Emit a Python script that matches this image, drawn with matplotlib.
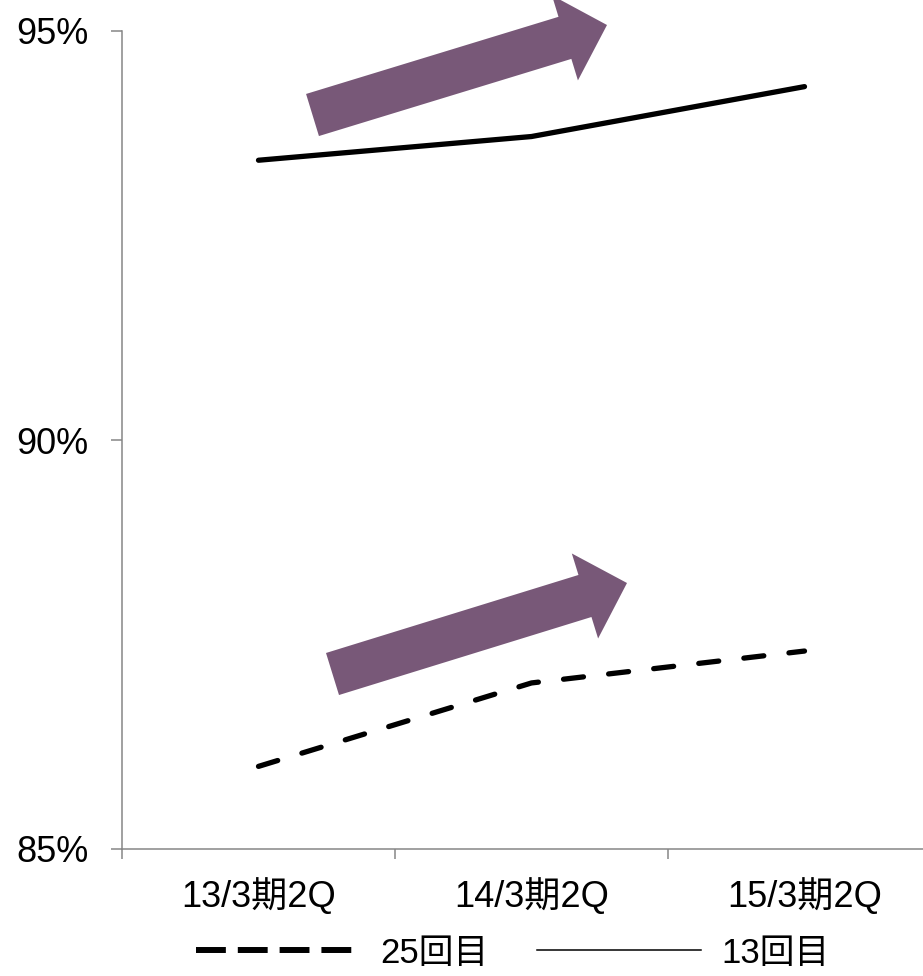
import numpy as np
import matplotlib
matplotlib.use("Agg")
import matplotlib.pyplot as plt
from matplotlib.lines import Line2D
from matplotlib.patches import Polygon
from matplotlib.ticker import FuncFormatter

plt.rcParams['font.family'] = ['Liberation Sans', 'Noto Sans CJK JP', 'DejaVu Sans']

# 継続率（%）
categories = ['13/3期2Q', '14/3期2Q', '15/3期2Q']
rate_25 = [86.01, 87.03, 87.42]   # 25回目
rate_13 = [93.42, 93.71, 94.32]   # 13回目
series_labels = ['25回目', '13回目']
y_ticks = [85, 90, 95]

W, H = 923, 976
fig = plt.figure(figsize=(W / 100, H / 100), dpi=100)
ax = fig.add_axes([122 / W, 1 - 849 / H, (941 - 122) / W, (849 - 31) / H])

x = np.arange(len(categories))
ax.plot(x, rate_13, color='black', lw=3.8, solid_capstyle='round', solid_joinstyle='round')
ax.plot(x, rate_25, color='black', lw=3.8, dashes=(3.8, 4.8), dash_capstyle='round')

ax.set_xlim(-0.5, len(categories) - 0.5)
ax.set_ylim(85, 95)

axis_grey = '#868686'
for side in ['top', 'right']:
    ax.spines[side].set_visible(False)
for side in ['left', 'bottom']:
    ax.spines[side].set_color(axis_grey)
    ax.spines[side].set_linewidth(1.1)

# category boundaries get tick marks, labels sit between them
ax.set_xticks(np.arange(len(categories) + 1) - 0.5)
ax.set_xticklabels([])
ax.set_xticks(x, minor=True)
ax.set_xticklabels(categories, minor=True, fontsize=26)
ax.tick_params(axis='x', which='major', length=7, width=1.1, color=axis_grey)
ax.tick_params(axis='x', which='minor', length=0, pad=21)

ax.set_yticks(y_ticks)
ax.yaxis.set_major_formatter(FuncFormatter(lambda v, _: f'{v:.0f}%'))
ax.tick_params(axis='y', length=8, width=1.1, color=axis_grey, pad=16, labelsize=26)


def fat_arrow(tail, tip, shaft_w, head_w, head_len, color):
    """Block arrow given in pixel coordinates (y down)."""
    t = np.array(tail, float)
    p = np.array(tip, float)
    u = (p - t) / np.hypot(*(p - t))
    n = np.array([-u[1], u[0]])
    base = p - u * head_len
    pts = [t + n * shaft_w / 2, base + n * shaft_w / 2, base + n * head_w / 2, p,
           base - n * head_w / 2, base - n * shaft_w / 2, t - n * shaft_w / 2]
    pts = [(px / W, 1 - py / H) for px, py in pts]
    fig.patches.append(Polygon(pts, closed=True, facecolor=color, edgecolor='none',
                               transform=fig.transFigure, figure=fig))


arrow_color = '#785878'
fat_arrow((312.5, 115), (607, 25), 44, 89, 44, arrow_color)
fat_arrow((332.5, 674), (627, 583), 44, 89, 44, arrow_color)

handles = [
    Line2D([], [], color='black', lw=4.3, dashes=(5, 2), dash_capstyle='butt'),
    Line2D([], [], color='black', lw=1.1),
]
fig.legend(handles, series_labels, loc='center', bbox_to_anchor=(513 / W, 1 - 953 / H),
           ncol=2, frameon=False, fontsize=25, handlelength=4.7, handletextpad=0.6,
           columnspacing=1.4, borderpad=0)

fig.savefig('out.png', dpi=100)
